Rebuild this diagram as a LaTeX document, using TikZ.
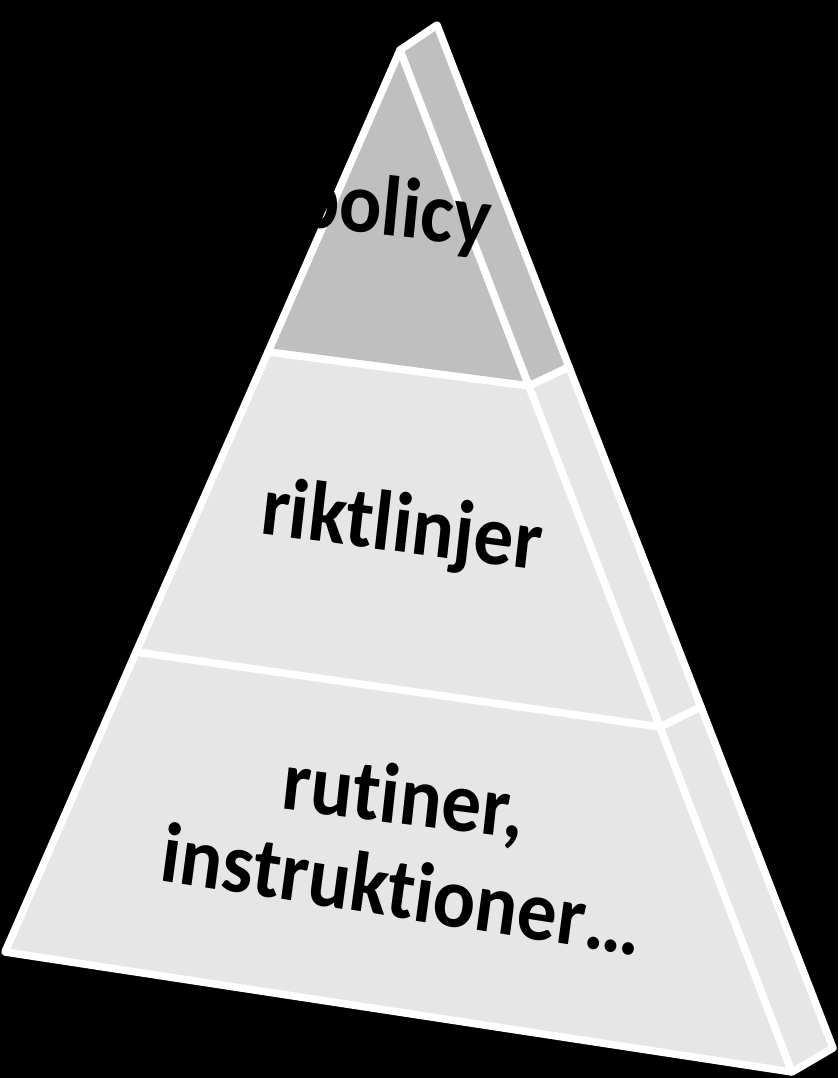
\documentclass[tikz,border=0pt]{standalone}
\usepackage{fontspec}
\setmainfont{Carlito}[Ligatures=NoCommon]
\usetikzlibrary{positioning}
\definecolor{topgray}{RGB}{191,191,191}
\definecolor{lowgray}{RGB}{230,230,230}

\begin{document}
\begin{tikzpicture}[x=0.01cm, y=-0.01cm,
    face/.style={draw=white, line width=0.075cm, line join=round},
    tier/.style={font=\fontsize{22.5}{26}\selectfont\bfseries, text=black, anchor=base, inner sep=0pt, yscale=1.08}]
    % background
    \fill[black] (0,0) rectangle (838,1078);
    \useasboundingbox (0,0) rectangle (838,1078);
    % corners
    \coordinate (apex) at (400,50);
    \coordinate (back) at (437,25);
    \coordinate (botl) at (5,952);
    \coordinate (botr) at (792,1072);
    \coordinate (sider) at (833,1048);
    \coordinate (cut1l) at (268,352);
    \coordinate (cut1r) at (529,386);
    \coordinate (cut1s) at (569,367);
    \coordinate (cut2l) at (136,652);
    \coordinate (cut2r) at (660,727);
    \coordinate (cut2s) at (701,707);
    % faces
    \filldraw[face, fill=topgray] (apex) -- (cut1l) -- (cut1r) -- cycle;
    \filldraw[face, fill=topgray] (apex) -- (back) -- (cut1s) -- (cut1r) -- cycle;
    \filldraw[face, fill=lowgray] (cut1l) -- (cut2l) -- (cut2r) -- (cut1r) -- cycle;
    \filldraw[face, fill=lowgray] (cut1r) -- (cut1s) -- (cut2s) -- (cut2r) -- cycle;
    \filldraw[face, fill=lowgray] (cut2l) -- (botl) -- (botr) -- (cut2r) -- cycle;
    \filldraw[face, fill=lowgray] (cut2r) -- (cut2s) -- (sider) -- (botr) -- cycle;
    % labels
    \node[tier, rotate=-6] (policy) at (392,236) {policy};
    \node[tier, rotate=-7] (riktl) at (399,552) {riktlinjer};
    \node[tier, rotate=-6.7] (rutin) at (401,824) {rutiner,};
    \node[tier, rotate=-8.3] (instr) at (398,918) {instruktioner…};
\end{tikzpicture}
\end{document}
